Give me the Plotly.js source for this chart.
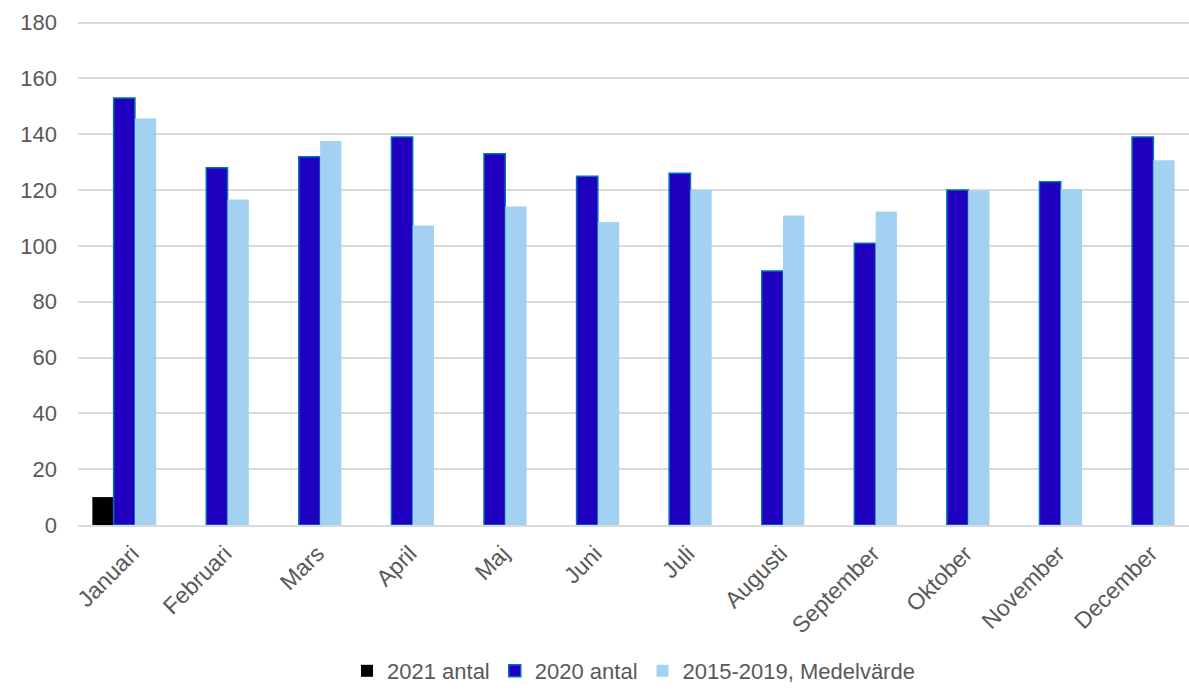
<!DOCTYPE html>
<html>
<head>
<meta charset="utf-8">
<script src="https://cdn.plot.ly/plotly-3.0.1.min.js"></script>
<style>html,body{margin:0;padding:0;background:#fff;}#chart{width:1189px;height:692px;}</style>
</head>
<body>
<div id="chart"></div>
<script>
const months = ["Januari","Februari","Mars","April","Maj","Juni","Juli","Augusti","September","Oktober","November","December"];
const antal2021 = [10, null, null, null, null, null, null, null, null, null, null, null];
const antal2020 = [153, 128, 132, 139, 133, 125, 126, 91, 101, 120, 123, 139];
const medel2015_2019 = [145.7, 116.6, 137.6, 107.3, 114.1, 108.6, 120, 110.9, 112.3, 119.8, 120.4, 130.7];
const yTicks = [0, 20, 40, 60, 80, 100, 120, 140, 160, 180];

const traces = [
  {type:'bar', name:'2021 antal', x:months, y:antal2021, marker:{color:'#000000'}},
  {type:'bar', name:'2020 antal', x:months, y:antal2020, marker:{color:'#1E00BE', line:{color:'#0070C0', width:1.5}}},
  {type:'bar', name:'2015-2019, Medelvärde', x:months, y:medel2015_2019, marker:{color:'#A3D1F2'}}
];

const layout = {
  width:1189, height:692,
  margin:{l:78, r:0, t:21, b:167},
  paper_bgcolor:'#fff', plot_bgcolor:'#fff',
  barmode:'group', bargap:0.31, bargroupgap:0,
  font:{family:'Liberation Sans, Arial, sans-serif', color:'#595959', size:22},
  xaxis:{
    tickangle:-45, tickfont:{size:23, color:'#595959'},
    showgrid:false, showline:true, linecolor:'#d9d9d9', linewidth:2,
    ticks:'', fixedrange:true, ticklabelshift:8, ticklabelstandoff:4
  },
  yaxis:{
    range:[0,180.6], tickvals:yTicks, ticktext:yTicks.map(String),
    showgrid:true, gridcolor:'#d9d9d9', gridwidth:2,
    zeroline:false, showline:false, ticks:'',
    tickfont:{size:22, color:'#595959'}, ticklabelstandoff:20
  },
  showlegend:true,
  legend:{orientation:'h', x:0.5, xanchor:'center', yref:'container', y:0, yanchor:'bottom',
    font:{size:22, color:'#595959'}, traceorder:'normal', itemwidth:30}
};

Plotly.newPlot('chart', traces, layout, {displayModeBar:false, staticPlot:true});
</script>
</body>
</html>
